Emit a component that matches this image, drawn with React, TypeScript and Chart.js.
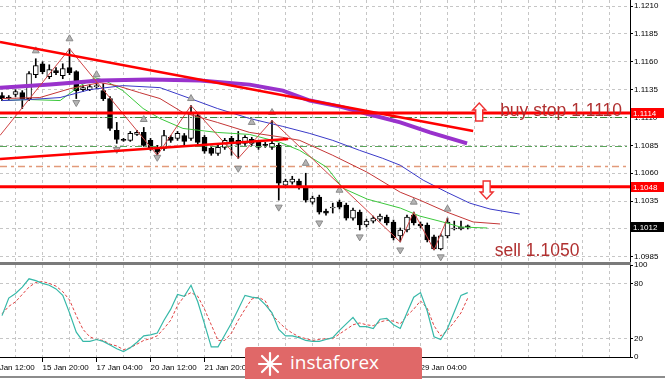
import React, { useEffect, useRef } from 'react';
import { Chart, registerables } from 'chart.js';

Chart.register(...registerables);

// ---------------- DATA (EURUSD H4) ----------------
const openP = [
  1.11297, 1.11279, 1.11306, 1.11323, 1.11270, 1.11484, 1.11582, 1.11466, 1.11520, 1.11475,
  1.11547, 1.11511, 1.11350, 1.11350, 1.11377, 1.11341, 1.11270, 1.10984, 1.10904, 1.10895,
  1.10948, 1.10966, 1.10895, 1.10832, 1.10823, 1.10922, 1.10913, 1.10939, 1.10913, 1.11118,
  1.10922, 1.10823, 1.10779, 1.10832, 1.10913, 1.10895, 1.10868, 1.10904, 1.10877, 1.10859,
  1.10832, 1.10850, 1.10493, 1.10520, 1.10529, 1.10475, 1.10341, 1.10386, 1.10261, 1.10288,
  1.10341, 1.10314, 1.10198, 1.10252, 1.10136, 1.10171, 1.10189, 1.10207, 1.10163, 1.10038,
  1.10091, 1.10225, 1.10145, 1.10136, 1.10029, 1.09921, 1.10038, 1.10100, 1.10100, 1.10127,
];
const highP = [
  1.11323, 1.11297, 1.11350, 1.11341, 1.11511, 1.11627, 1.11600, 1.11573, 1.11547, 1.11582,
  1.11716, 1.11520, 1.11386, 1.11395, 1.11431, 1.11404, 1.11288, 1.11056, 1.10913, 1.10975,
  1.10984, 1.11011, 1.10913, 1.10850, 1.10984, 1.10939, 1.10975, 1.10957, 1.11207, 1.11136,
  1.10939, 1.10841, 1.10850, 1.10913, 1.10931, 1.10975, 1.10939, 1.10922, 1.10895, 1.10877,
  1.11073, 1.10868, 1.10547, 1.10573, 1.10547, 1.10600, 1.10395, 1.10404, 1.10279, 1.10332,
  1.10359, 1.10332, 1.10288, 1.10270, 1.10189, 1.10216, 1.10234, 1.10225, 1.10180, 1.10109,
  1.10225, 1.10252, 1.10163, 1.10154, 1.10046, 1.10055, 1.10198, 1.10171, 1.10171, 1.10136,
];
const lowP = [
  1.11252, 1.11261, 1.11288, 1.11181, 1.11252, 1.11457, 1.11493, 1.11448, 1.11484, 1.11448,
  1.11484, 1.11270, 1.11332, 1.11341, 1.11359, 1.11252, 1.10984, 1.10868, 1.10886, 1.10886,
  1.10939, 1.10841, 1.10805, 1.10761, 1.10805, 1.10877, 1.10895, 1.10850, 1.10895, 1.10859,
  1.10779, 1.10761, 1.10761, 1.10814, 1.10761, 1.10734, 1.10850, 1.10850, 1.10814, 1.10832,
  1.10814, 1.10359, 1.10475, 1.10502, 1.10457, 1.10341, 1.10323, 1.10234, 1.10225, 1.10243,
  1.10279, 1.10180, 1.10180, 1.10091, 1.10118, 1.10154, 1.10171, 1.10136, 1.10002, 1.09984,
  1.10073, 1.10136, 1.10109, 1.09984, 1.09912, 1.09912, 1.10020, 1.10091, 1.10091, 1.10100,
];
const closeP = [
  1.11270, 1.11275, 1.11332, 1.11270, 1.11493, 1.11565, 1.11511, 1.11529, 1.11502, 1.11538,
  1.11502, 1.11341, 1.11368, 1.11377, 1.11386, 1.11270, 1.11002, 1.10904, 1.10895, 1.10957,
  1.10966, 1.10850, 1.10823, 1.10788, 1.10939, 1.10895, 1.10957, 1.10886, 1.11136, 1.10877,
  1.10797, 1.10779, 1.10832, 1.10895, 1.10877, 1.10859, 1.10922, 1.10868, 1.10832, 1.10850,
  1.10868, 1.10511, 1.10529, 1.10547, 1.10475, 1.10359, 1.10377, 1.10252, 1.10243, 1.10296,
  1.10296, 1.10198, 1.10270, 1.10136, 1.10171, 1.10198, 1.10216, 1.10154, 1.10020, 1.10091,
  1.10207, 1.10154, 1.10127, 1.10002, 1.09921, 1.10038, 1.10163, 1.10109, 1.10118, 1.10120,
];

// Stochastic oscillator
const stochK = [
  45, 64, 69, 76, 85, 83, 80, 78, 74, 67,
  48, 27, 17, 17, 19, 17, 13, 9, 6, 10,
  16, 23, 24, 26, 40, 52, 68, 66, 78, 60,
  36, 11, 11, 24, 37, 52, 67, 65, 64, 57,
  48, 30, 23, 23, 21, 18, 17, 17, 19, 21,
  29, 36, 43, 33, 33, 31, 41, 42, 35, 31,
  48, 65, 70, 50, 22, 19, 31, 49, 67, 70,
];
const stochD = [
  47, 55, 60, 68, 76, 81, 82, 80, 77, 71,
  62, 45, 30, 22, 19, 18, 14, 12, 8, 10,
  14, 18, 20, 23, 31, 40, 56, 66, 70, 66,
  52, 35, 18, 18, 26, 40, 52, 63, 65, 61,
  46, 38, 31, 26, 22, 20, 18, 19, 20, 20,
  25, 30, 35, 37, 35, 34, 38, 40, 39, 36,
  45, 52, 61, 53, 34, 23, 29, 38, 48, 64,
];

// Alligator (bar index, price) — shifted forward
const jawIdx = [0, 4.1, 8.6, 13, 17.9, 23.4, 27.9, 31.9, 36.7, 41.6, 45.6, 49, 53, 56.4, 59, 62.4, 65.9, 69.3, 72.3, 76.7];
const jawVal = [1.11252, 1.11261, 1.11279, 1.11350, 1.11386, 1.11368, 1.11270, 1.11181, 1.11091, 1.11020, 1.10957, 1.10895, 1.10805, 1.10734, 1.10672, 1.10538, 1.10430, 1.10332, 1.10279, 1.10234];
const teethIdx = [0, 5.6, 10.1, 14.5, 17, 20.4, 23.4, 26.8, 31.9, 36.7, 41.6, 44.1, 49, 54.1, 59, 61.9, 65.9, 69.8, 73.8];
const teethVal = [1.11270, 1.11279, 1.11359, 1.11413, 1.11386, 1.11323, 1.11270, 1.11145, 1.11056, 1.10966, 1.10922, 1.10895, 1.10761, 1.10609, 1.10430, 1.10359, 1.10252, 1.10163, 1.10145];
const lipsIdx = [0, 4.1, 8.6, 11.6, 13.8, 15.3, 17.9, 20.9, 23.4, 26.8, 31.9, 36.7, 41.2, 44.1, 48.1, 50.5, 54.1, 59, 61.9, 65.3, 67.9, 71.9];
const lipsVal = [1.11252, 1.11261, 1.11252, 1.11386, 1.11457, 1.11431, 1.11341, 1.11181, 1.11091, 1.11002, 1.10966, 1.10948, 1.10877, 1.10805, 1.10654, 1.10466, 1.10368, 1.10288, 1.10216, 1.10163, 1.10118, 1.10109];

// Slow moving average (purple)
const maIdx = [-0.3, 7.1, 14.5, 21.9, 29.3, 36.7, 41.6, 45.6, 50.1, 54.5, 59, 63.4, 68.9];
const maVal = [1.11368, 1.11395, 1.11431, 1.11440, 1.11431, 1.11395, 1.11341, 1.11252, 1.11198, 1.11127, 1.11056, 1.10966, 1.10868];

// ZigZag
const zigIdx = [-0.3, 10, 23, 28, 35, 40, 59, 61, 64, 66];
const zigVal = [1.10939, 1.11716, 1.10761, 1.11207, 1.10734, 1.11073, 1.09984, 1.10252, 1.09912, 1.10198];

// Fractals
const fracUpIdx = [5, 10, 14, 21, 28, 37, 40, 45, 50, 61, 66];
const fracUpVal = [1.11698, 1.11806, 1.11484, 1.11082, 1.11270, 1.11056, 1.11145, 1.10689, 1.10448, 1.10341, 1.10279];
const fracDnIdx = [11, 17, 23, 35, 41, 47, 53, 59, 65];
const fracDnVal = [1.11234, 1.10814, 1.10743, 1.10645, 1.10296, 1.10154, 1.10029, 1.09912, 1.09850];

// Levels and trend lines
const resistance = 1.1114;
const support = 1.1048;
const lastPrice = 1.1012;
const buyStopLevel = 1.1110;
const greenLevel = 1.1084;
const orangeLevel = 1.1066;
const downTrendIdx = [-0.3, 69.8];
const downTrendVal = [1.11777, 1.10979];
const upTrendIdx = [-0.3, 42.4];
const upTrendVal = [1.10728, 1.10907];

// Axis ticks
const priceTicks = [1.0985, 1.1010, 1.1035, 1.1060, 1.1085, 1.1110, 1.1135, 1.1160, 1.1185, 1.1210];
const oscTicks = [0, 20, 80, 100];
const timeLabelIdx = [-2, 6, 14, 22, 30, 38, 46, 54, 62];
const timeLabels = ['14 Jan 12:00', '15 Jan 20:00', '17 Jan 04:00', '20 Jan 12:00', '21 Jan 20:00', '23 Jan 04:00', '24 Jan 12:00', '27 Jan 20:00', '29 Jan 04:00'];

const buyNote = 'buy stop 1.1110';
const sellNote = 'sell 1.1050';

// ---------------- CONFIG ----------------
const FONT = "'Liberation Sans', Arial, sans-serif";
const GRID = '#c6c6c6';
const X_MIN = -0.3;
const X_MAX = 93.04;
const Y_MIN = 1.09804;
const Y_MAX = 1.12154;

Chart.defaults.font.family = FONT;

const gridTicks: number[] = [];
for (let v = -2; v <= X_MAX; v += 4) gridTicks.push(v);

const labelFor = (v: number) => {
  const k = timeLabelIdx.indexOf(Math.round(v));
  return k >= 0 ? timeLabels[k] : '';
};
const pts = (xs: number[], ys: number[]) => xs.map((x, i) => ({ x, y: ys[i] }));
const hline = (v: number) => [{ x: X_MIN, y: v }, { x: X_MAX, y: v }];

const lineDs = (data: any[], color: string, width: number, order: number, dash: number[] = []) => ({
  type: 'line',
  data,
  borderColor: color,
  borderWidth: width,
  borderDash: dash,
  pointRadius: 0,
  tension: 0,
  order,
});

const annotations = {
  id: 'annotations',
  afterDatasetsDraw(chart: any) {
    const { ctx, scales } = chart;
    const x = scales.x;
    const y = scales.y;
    ctx.save();
    const arrow = (cx: number, top: number, up: boolean) => {
      const w = 13, hw = 3.5, h = 18, head = 7;
      ctx.beginPath();
      if (up) {
        ctx.moveTo(cx, top);
        ctx.lineTo(cx + w / 2, top + head);
        ctx.lineTo(cx + hw, top + head);
        ctx.lineTo(cx + hw, top + h);
        ctx.lineTo(cx - hw, top + h);
        ctx.lineTo(cx - hw, top + head);
        ctx.lineTo(cx - w / 2, top + head);
      } else {
        ctx.moveTo(cx - hw, top);
        ctx.lineTo(cx + hw, top);
        ctx.lineTo(cx + hw, top + h - head);
        ctx.lineTo(cx + w / 2, top + h - head);
        ctx.lineTo(cx, top + h);
        ctx.lineTo(cx - w / 2, top + h - head);
        ctx.lineTo(cx - hw, top + h - head);
      }
      ctx.closePath();
      ctx.fillStyle = '#ffffff';
      ctx.fill();
      ctx.strokeStyle = '#ee3030';
      ctx.lineWidth = 1.4;
      ctx.stroke();
    };
    arrow(x.getPixelForValue(70.7), y.getPixelForValue(1.1123), true);
    arrow(x.getPixelForValue(71.8), y.getPixelForValue(1.1053), false);

    ctx.fillStyle = '#b03030';
    ctx.font = `17.5px ${FONT}`;
    ctx.textAlign = 'left';
    ctx.textBaseline = 'alphabetic';
    ctx.fillText(buyNote, x.getPixelForValue(73.8), y.getPixelForValue(1.1111));
    ctx.fillText(sellNote, x.getPixelForValue(73), y.getPixelForValue(1.0986));
    ctx.restore();
  },
  afterDraw(chart: any) {
    const { ctx, chartArea, scales } = chart;
    const y = scales.y;
    ctx.save();
    ctx.font = `8px ${FONT}`;
    ctx.textBaseline = 'middle';
    ctx.textAlign = 'left';
    const boxes: [number, string][] = [[resistance, '#ff0000'], [support, '#ff0000'], [lastPrice, '#000000']];
    boxes.forEach(([v, c]) => {
      const py = Math.round(y.getPixelForValue(v));
      ctx.fillStyle = c;
      ctx.fillRect(chartArea.right + 1, py - 5, 33, 10);
      ctx.fillStyle = '#ffffff';
      ctx.fillText(v.toFixed(4), chartArea.right + 3, py + 0.5);
    });
    ctx.restore();
  },
};

function mainConfig(): any {
  const idx = openP.map((_, i) => i);
  return {
    type: 'bar',
    data: {
      datasets: [
        lineDs(hline(resistance), '#ff0000', 3, 1),
        lineDs(hline(support), '#ff0000', 3, 1),
        lineDs(pts(downTrendIdx, downTrendVal), '#ff0000', 2.5, 1),
        lineDs(pts(upTrendIdx, upTrendVal), '#ff0000', 2.5, 1),
        {
          type: 'line', data: pts(fracUpIdx, fracUpVal), showLine: false,
          pointStyle: 'triangle', pointRadius: 4, pointRotation: 0,
          pointBackgroundColor: '#b4b4b4', pointBorderColor: '#8a8a8a', pointBorderWidth: 1, order: 2,
        },
        {
          type: 'line', data: pts(fracDnIdx, fracDnVal), showLine: false,
          pointStyle: 'triangle', pointRadius: 4, pointRotation: 180,
          pointBackgroundColor: '#b4b4b4', pointBorderColor: '#8a8a8a', pointBorderWidth: 1, order: 2,
        },
        lineDs(pts(zigIdx, zigVal), '#d04545', 1, 3),
        lineDs(pts(maIdx, maVal), '#9932cc', 4, 4),
        lineDs(pts(jawIdx, jawVal), '#3a3ac8', 1, 5),
        lineDs(pts(teethIdx, teethVal), '#c43636', 1, 5),
        lineDs(pts(lipsIdx, lipsVal), '#3cc83c', 1, 5),
        lineDs(hline(buyStopLevel), '#3a8a3a', 1, 6, [7, 3, 2, 3]),
        lineDs(hline(greenLevel), '#5aa55a', 1.2, 6, [7, 3, 2, 3]),
        lineDs(hline(orangeLevel), '#e29a7a', 1.5, 6, [7, 4, 3, 4]),
        {
          type: 'bar',
          data: idx.map((i) => ({ x: i, y: [openP[i], closeP[i]] })),
          backgroundColor: (c: any) => (closeP[c.dataIndex] >= openP[c.dataIndex] ? '#ffffff' : '#000000'),
          borderColor: '#000000',
          borderWidth: 1,
          borderSkipped: false,
          barThickness: 5,
          minBarLength: 1,
          grouped: false,
          order: 7,
        },
        {
          type: 'bar',
          data: idx.map((i) => ({ x: i, y: [lowP[i], highP[i]] })),
          backgroundColor: '#000000',
          borderWidth: 0,
          barThickness: 1,
          grouped: false,
          order: 8,
        },
      ],
    },
    options: {
      responsive: false,
      animation: false,
      events: [],
      layout: { padding: 0, autoPadding: false },
      plugins: { legend: { display: false }, tooltip: { enabled: false } },
      scales: {
        x: {
          type: 'linear',
          min: X_MIN,
          max: X_MAX,
          offset: false,
          afterBuildTicks: (s: any) => { s.ticks = gridTicks.map((v) => ({ value: v })); },
          ticks: { display: false },
          grid: { offset: false, color: GRID, drawTicks: false },
          border: { display: false, dash: [3, 3] },
          afterFit: (s: any) => { s.height = 0; s.paddingLeft = 0; s.paddingRight = 0; },
        },
        y: {
          type: 'linear',
          position: 'right',
          min: Y_MIN,
          max: Y_MAX,
          beginAtZero: false,
          afterBuildTicks: (s: any) => { s.ticks = priceTicks.map((v) => ({ value: v })); },
          ticks: { callback: (v: any) => Number(v).toFixed(4), color: '#000', font: { size: 8 }, padding: 1 },
          grid: { color: GRID, tickLength: 3, tickColor: '#000' },
          border: { display: true, color: '#000', width: 1, dash: [3, 3] },
          afterFit: (s: any) => { s.width = 35; s.paddingTop = 0; s.paddingBottom = 0; },
        },
      },
    },
    plugins: [annotations],
  };
}

function oscConfig(): any {
  return {
    type: 'line',
    data: {
      datasets: [
        {
          data: stochK.map((v, i) => ({ x: i, y: v })),
          borderColor: '#36b8a8', borderWidth: 1.2, pointRadius: 0, tension: 0,
        },
        {
          data: stochD.map((v, i) => ({ x: i, y: v })),
          borderColor: '#e04444', borderWidth: 1, borderDash: [3, 2], pointRadius: 0, tension: 0,
        },
      ],
    },
    options: {
      responsive: false,
      animation: false,
      events: [],
      layout: { padding: { top: 3, left: 0, right: 0, bottom: 0 }, autoPadding: false },
      plugins: { legend: { display: false }, tooltip: { enabled: false } },
      scales: {
        x: {
          type: 'linear',
          min: X_MIN,
          max: X_MAX,
          afterBuildTicks: (s: any) => { s.ticks = gridTicks.map((v) => ({ value: v })); },
          ticks: {
            callback: (v: any) => labelFor(Number(v)),
            align: 'start', autoSkip: false, maxRotation: 0, minRotation: 0,
            color: '#000', font: { size: 8 }, padding: 1,
          },
          grid: {
            color: GRID, tickLength: 5,
            tickColor: (c: any) => (c.tick && labelFor(c.tick.value) ? '#000' : 'rgba(0,0,0,0)'),
          },
          border: { display: true, color: '#000', width: 1, dash: [3, 3] },
          afterFit: (s: any) => { s.height = 22; s.paddingLeft = 0; s.paddingRight = 0; },
        },
        y: {
          type: 'linear',
          position: 'right',
          min: 0,
          max: 100,
          afterBuildTicks: (s: any) => { s.ticks = oscTicks.map((v) => ({ value: v })); },
          ticks: { callback: (v: any) => String(v), color: '#000', font: { size: 8 }, padding: 1 },
          grid: {
            color: (c: any) => (c.tick && (c.tick.value === 20 || c.tick.value === 80) ? GRID : 'rgba(0,0,0,0)'),
            tickLength: 3, tickColor: '#000',
          },
          border: { display: true, color: '#000', width: 1, dash: [3, 3] },
          afterFit: (s: any) => { s.width = 35; s.paddingTop = 0; s.paddingBottom = 0; },
        },
      },
    },
  };
}

function Logo() {
  return (
    <div style={{ position: 'absolute', left: 245, top: 347, width: 177, height: 34, background: '#e06868', borderRadius: '3px 3px 0 0' }}>
      <svg style={{ position: 'absolute', left: 10, top: 4 }} width={30} height={26} viewBox="0 0 30 26">
        <g stroke="#ffffff" strokeWidth={2.2} strokeLinecap="round">
          <line x1={15} y1={2} x2={15} y2={24} />
          <line x1={4} y1={13} x2={26} y2={13} />
          <line x1={7} y1={5} x2={23} y2={21} />
          <line x1={23} y1={5} x2={7} y2={21} />
        </g>
      </svg>
      <span style={{ position: 'absolute', left: 45, top: 2, color: '#ffffff', fontFamily: "'Open Sans', sans-serif", fontSize: 19, lineHeight: '26px' }}>
        instaforex
      </span>
    </div>
  );
}

export default function App() {
  const mainRef = useRef<HTMLCanvasElement>(null);
  const oscRef = useRef<HTMLCanvasElement>(null);

  useEffect(() => {
    const main = new Chart(mainRef.current as HTMLCanvasElement, mainConfig());
    const osc = new Chart(oscRef.current as HTMLCanvasElement, oscConfig());
    return () => {
      main.destroy();
      osc.destroy();
    };
  }, []);

  return (
    <div style={{ position: 'fixed', left: 0, top: 0, width: 665, height: 379, background: '#ffffff', overflow: 'hidden' }}>
      <div style={{ position: 'absolute', left: 0, top: 262, width: 631, height: 3, background: '#7a7a7a' }} />
      <canvas ref={mainRef} width={665} height={262} style={{ position: 'absolute', left: 0, top: 0 }} />
      <canvas ref={oscRef} width={665} height={117} style={{ position: 'absolute', left: 0, top: 262 }} />
      <div style={{ position: 'absolute', left: 0, top: 376, width: 665, height: 2, background: '#8c8c8c' }} />
      <Logo />
    </div>
  );
}
